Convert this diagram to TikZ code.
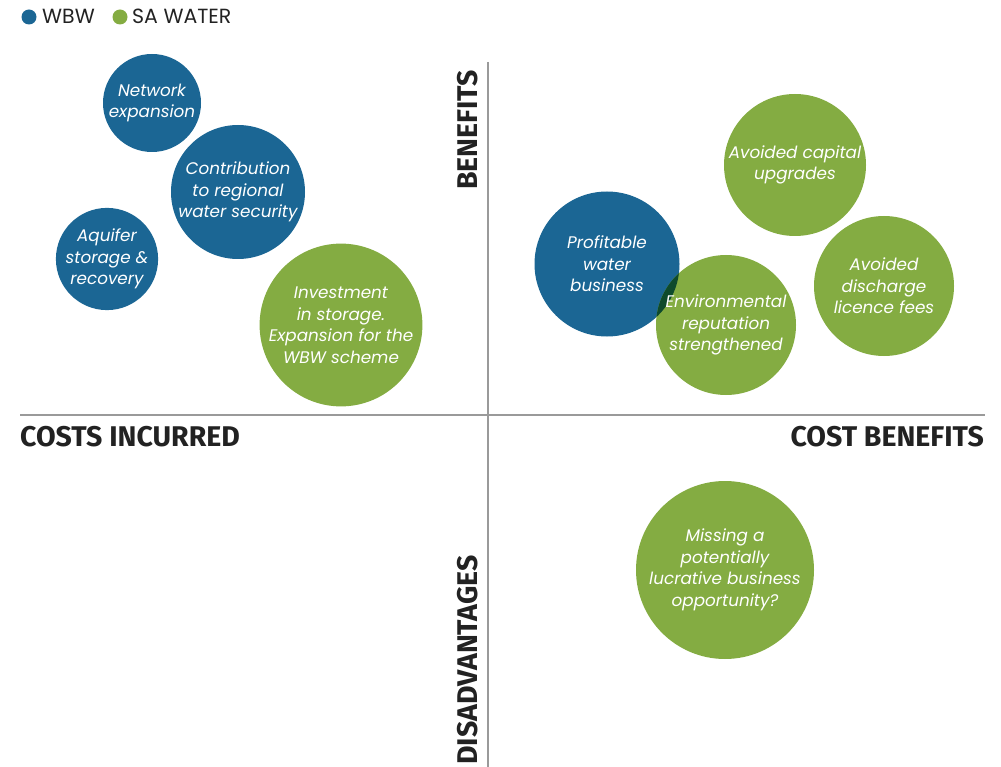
\documentclass[tikz,border=0pt]{standalone}
\usepackage{fontspec}
\setmainfont{Poppins}
\newfontfamily\axisfont{Fira Sans}
\begin{document}
\definecolor{wbwblue}{HTML}{1B6694}
\definecolor{sagreen}{HTML}{84AC42}
\definecolor{overlap}{HTML}{0E4A2C}
\definecolor{axisgrey}{HTML}{9A9A9A}
\definecolor{labeltext}{HTML}{222222}
\begin{tikzpicture}[x=1pt,y=-1pt,
  bubble/.style={circle,inner sep=0pt,text=white,align=center,
    font=\fontsize{16.8}{21.5}\selectfont\itshape},
  wbw/.style={bubble,fill=wbwblue},
  sa/.style={bubble,fill=sagreen},
  axis/.style={draw=axisgrey,line width=1.6pt},
  axislabel/.style={text=labeltext,font=\axisfont\fontsize{28.5}{30}\selectfont\bfseries,inner sep=0pt},
  legendtext/.style={text=labeltext,font=\fontsize{20.5}{22}\selectfont,inner sep=0pt,anchor=base west}]
\useasboundingbox (0,0) rectangle (1001,767);

% quadrant axes
\coordinate (vtop) at (488,62);
\coordinate (vbot) at (488,767);
\coordinate (hl) at (20,415);
\coordinate (hr) at (985,415);
\draw[axis] (vtop) -- (vbot);
\draw[axis] (hl) -- (hr);

% axis labels
\node[axislabel,anchor=base west] (costs) at (20,446) {COSTS INCURRED};
\node[axislabel,anchor=base east] (costben) at (984,446) {COST BENEFITS};
\node[axislabel,anchor=base west,rotate=90] (ben) at (477,190) {BENEFITS};
\node[axislabel,anchor=base west,rotate=90] (dis) at (477,765) {DISADVANTAGES};

% legend
\fill[wbwblue] (29,17) circle (7.5);
\node[legendtext] (lw) at (42,24) {WBW};
\fill[sagreen] (120,17) circle (7.5);
\node[legendtext] (ls) at (132,24) {SA WATER};

% WBW bubbles, costs side
\node[wbw,minimum size=98] (net) at (152,103) {Network\\expansion};
\node[wbw,minimum size=134] (contrib) at (238,192) {Contribution\\to regional\\water security};
\node[wbw,minimum size=98] (asr) at (107,259) {Aquifer\\storage \&\\recovery};
% SA Water bubble, costs side
\node[sa,minimum size=152] (invest) at (341,325) {Investment\\in storage.\\Expansion for the\\WBW scheme};

% benefits side
\node[wbw,minimum size=145] (profit) at (607,264) {Profitable\\water\\business};
\node[sa,minimum size=140] (env) at (726,325) {};
\begin{scope}
  \clip (607,264) circle (72.5);
  \fill[overlap] (726,325) circle (70);
\end{scope}
\node[bubble] (envtext) at (726,325) {Environmental\\reputation\\strengthened};
\node[sa,minimum size=142] (capital) at (795,165) {Avoided capital\\upgrades};
\node[sa,minimum size=140] (licence) at (884,286) {Avoided\\discharge\\licence fees};

% disadvantages side
\node[sa,minimum size=178] (missing) at (725,570) {Missing a\\potentially\\lucrative business\\opportunity?};
\end{tikzpicture}
\end{document}
